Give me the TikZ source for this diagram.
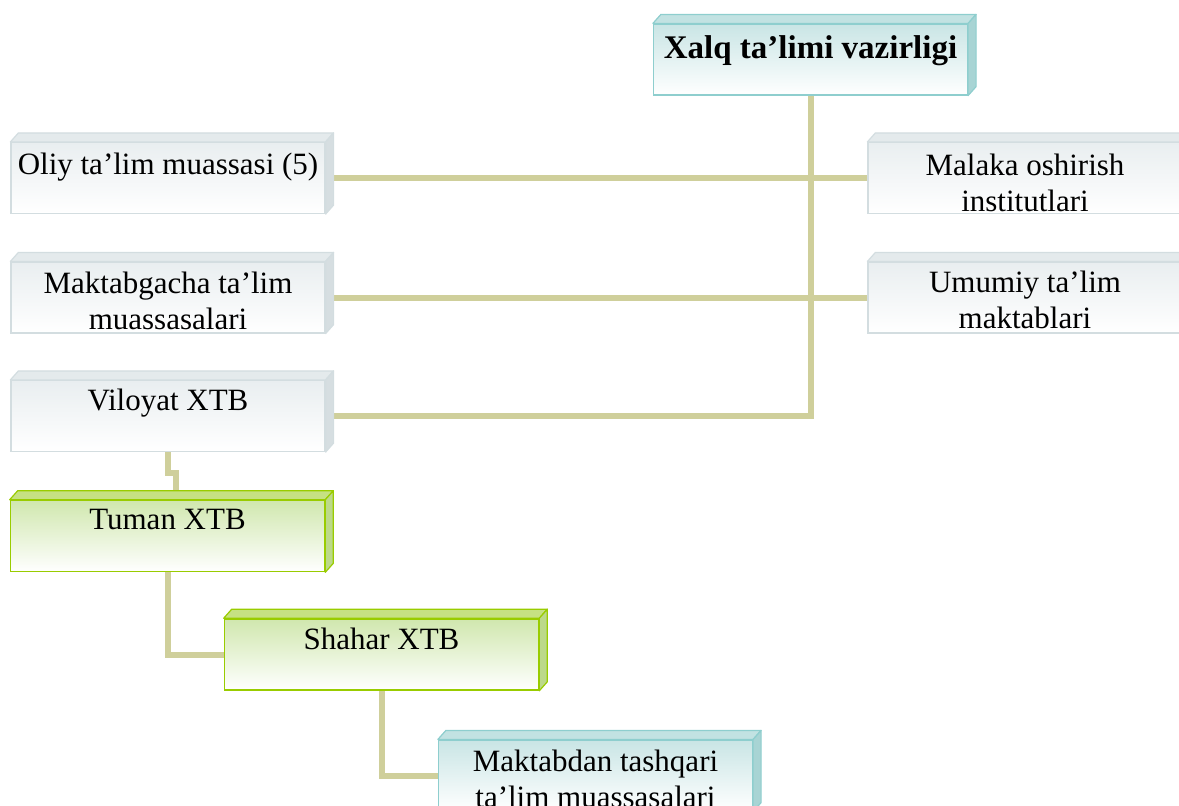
\documentclass[tikz,border=0pt]{standalone}
\usepackage{fontspec}
\setmainfont{Liberation Serif}
\usetikzlibrary{backgrounds}

\definecolor{linkkhaki}{HTML}{CFCF9B}
\definecolor{grayedge}{HTML}{D3DDE0}
\definecolor{graytop}{HTML}{E4EAEC}
\definecolor{grayside}{HTML}{D6DEE1}
\definecolor{grayfill}{HTML}{E9EEF0}
\definecolor{tealedge}{HTML}{8ECECE}
\definecolor{tealtop}{HTML}{C2E2E2}
\definecolor{tealside}{HTML}{A8D4D4}
\definecolor{tealfill}{HTML}{C9E5E5}
\definecolor{greenedge}{HTML}{99CC00}
\definecolor{greentop}{HTML}{C6E183}
\definecolor{greenside}{HTML}{BCD98A}
\definecolor{greenfill}{HTML}{D0E7AE}

\tikzset{
  unit/.style={rectangle, minimum width=157pt, minimum height=35.5pt, inner sep=0pt},
  graybox/.style={unit, draw=grayedge, line width=0.6pt, top color=grayfill, bottom color=white},
  tealbox/.style={unit, draw=tealedge, line width=0.6pt, top color=tealfill, bottom color=white},
  greenbox/.style={unit, draw=greenedge, line width=0.8pt, top color=greenfill, bottom color=white},
  boxtext/.style={anchor=north, align=center, inner sep=0pt, font=\fontsize{15.5}{18}\selectfont},
  link/.style={draw=linkkhaki, line width=3pt},
}

% top and right faces of a box: name, edge, top colour, side colour
\newcommand{\boxsides}[4]{%
  \filldraw[draw=#2, fill=#3, line width=0.6pt, line join=round]
    (#1.north west) -- ([shift={(4pt,4.5pt)}]#1.north west)
    -- ([shift={(4pt,4.5pt)}]#1.north east) -- (#1.north east) -- cycle;
  \filldraw[draw=#2, fill=#4, line width=0.6pt, line join=round]
    (#1.north east) -- ([shift={(4pt,4.5pt)}]#1.north east)
    -- ([shift={(4pt,4.5pt)}]#1.south east) -- (#1.south east) -- cycle;
}

\begin{document}
\begin{tikzpicture}[x=0.5pt, y=-0.5pt]
  \useasboundingbox (0,0) rectangle (1179,805);

  % ministry
  \node[tealbox] (minis) at (810.5,59.5) {};
  \boxsides{minis}{tealedge}{tealtop}{tealside}
  \node[boxtext, font=\fontsize{16.5}{19}\selectfont\bfseries] (minis-t) at ([yshift=-6pt]minis.north) {Xalq ta’limi vazirligi};

  % left column
  \node[graybox] (oliy) at (168,178) {};
  \boxsides{oliy}{grayedge}{graytop}{grayside}
  \node[boxtext] (oliy-t) at ([yshift=-5.5pt]oliy.north) {Oliy ta’lim muassasi (5)};

  \node[graybox] (maktabgacha) at (168,297.5) {};
  \boxsides{maktabgacha}{grayedge}{graytop}{grayside}
  \node[boxtext] (maktabgacha-t) at ([yshift=-5pt]maktabgacha.north) {Maktabgacha ta’lim\\muassasalari};

  \node[graybox] (viloyat) at (168,416) {};
  \boxsides{viloyat}{grayedge}{graytop}{grayside}
  \node[boxtext] (viloyat-t) at ([yshift=-4.5pt]viloyat.north) {Viloyat XTB};

  % right column
  \node[graybox] (malaka) at (1025,178) {};
  \boxsides{malaka}{grayedge}{graytop}{grayside}
  \node[boxtext] (malaka-t) at ([yshift=-6pt]malaka.north) {Malaka oshirish\\institutlari};

  \node[graybox] (umumiy) at (1025,297.5) {};
  \boxsides{umumiy}{grayedge}{graytop}{grayside}
  \node[boxtext] (umumiy-t) at ([yshift=-4.5pt]umumiy.north) {Umumiy ta’lim\\maktablari};

  % district chain
  \node[greenbox] (tuman) at (167.5,536) {};
  \boxsides{tuman}{greenedge}{greentop}{greenside}
  \node[boxtext] (tuman-t) at ([yshift=-4.5pt]tuman.north) {Tuman XTB};

  \node[greenbox] (shahar) at (381.5,654.5) {};
  \boxsides{shahar}{greenedge}{greentop}{greenside}
  \node[boxtext] (shahar-t) at ([yshift=-4.5pt]shahar.north) {Shahar XTB};

  \node[tealbox] (maktabdan) at (595.5,775.5) {};
  \boxsides{maktabdan}{tealedge}{tealtop}{tealside}
  \node[boxtext] (maktabdan-t) at ([yshift=-5pt]maktabdan.north) {Maktabdan tashqari\\ta’lim muassasalari};

  % connectors
  \begin{scope}[on background layer]
    \draw[link] (minis.south) |- (viloyat.east);
    \draw[link] (oliy.east) -- (malaka.west);
    \draw[link] (maktabgacha.east) -- (umumiy.west);
    \draw[link] (viloyat.south) -- ++(0,21) -| ([xshift=4pt]tuman.north);
    \draw[link] (tuman.south) |- (shahar.west);
    \draw[link] (shahar.south) |- (maktabdan.west);
  \end{scope}
\end{tikzpicture}
\end{document}
